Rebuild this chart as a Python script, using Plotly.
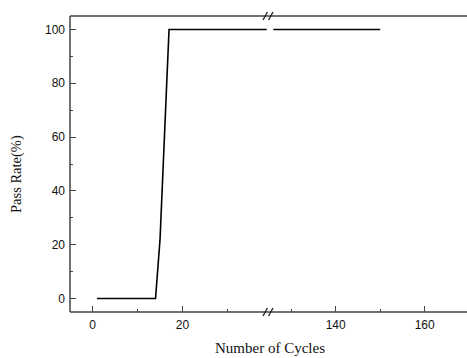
import plotly.graph_objects as go

# Data
cycles = [1, 14, 15, 17, 150]
pass_rate = [0, 0, 22, 100, 100]

x_title = "Number of Cycles"
y_title = "Pass Rate(%)"

W, H = 467, 358
ML, MR, MT, MB = 70, 0, 16, 46

left_dom = [0, 0.4955]
right_dom = [0.5121, 1.0]

axis_col = "#444444"
tick_font = dict(family="Liberation Sans, Arial", size=12, color="#111111")
xtitle_font = dict(family="Liberation Serif, Times New Roman", size=15, color="#111111")
ytitle_font = dict(family="Liberation Serif, Times New Roman", size=14.5, color="#111111")

fig = go.Figure()
fig.add_trace(go.Scatter(x=cycles, y=pass_rate, mode="lines",
                         line=dict(color="black", width=1.6), xaxis="x", yaxis="y",
                         showlegend=False))
fig.add_trace(go.Scatter(x=cycles, y=pass_rate, mode="lines",
                         line=dict(color="black", width=1.6), xaxis="x2", yaxis="y",
                         showlegend=False))

common_x = dict(showgrid=False, zeroline=False, showline=False,
                ticks="inside", ticklen=6, tickwidth=1.2, tickcolor=axis_col,
                tick0=0, dtick=20, tickfont=tick_font,
                minor=dict(ticks="inside", ticklen=3, tickwidth=1.2, tickcolor=axis_col, dtick=10, tick0=0, showgrid=False),
                ticklabelstandoff=4)

fig.update_layout(
    width=W, height=H,
    margin=dict(l=ML, r=MR, t=MT, b=MB),
    paper_bgcolor="white", plot_bgcolor="white",
    xaxis=dict(domain=left_dom, range=[-5, 38.7], anchor="y", **common_x),
    xaxis2=dict(domain=right_dom, range=[126, 169.5], anchor="y", **common_x),
    yaxis=dict(domain=[0, 1], range=[-5, 105], showgrid=False, zeroline=False, showline=False,
               ticks="inside", ticklen=6, tickwidth=1.2, tickcolor=axis_col,
               tick0=0, dtick=20, tickfont=tick_font,
               minor=dict(ticks="inside", ticklen=3, tickwidth=1.2, tickcolor=axis_col, dtick=10, tick0=0, showgrid=False),
               ticklabelstandoff=4),
)

shapes = []
lw = 1.5
# frame lines (bottom, top, left)
shapes.append(dict(type="line", xref="paper", yref="paper", x0=0, x1=1, y0=0, y1=0,
                   line=dict(color=axis_col, width=lw)))
shapes.append(dict(type="line", xref="paper", yref="paper", x0=0, x1=1, y0=1, y1=1,
                   line=dict(color=axis_col, width=lw)))
shapes.append(dict(type="line", xref="paper", yref="paper", x0=0, x1=0, y0=0, y1=1,
                   line=dict(color=axis_col, width=lw)))

# break marks "//" on bottom and top axes
pw = W - ML - MR
ph = H - MT - MB
def px(xpix):
    return (xpix - ML) / pw
def py_off(dpix):
    return dpix / ph
for ybase in (0, 1):
    for x0pix in (263.0, 268.5):
        shapes.append(dict(type="line", xref="paper", yref="paper",
                           x0=px(x0pix), x1=px(x0pix + 4.5),
                           y0=ybase - py_off(4), y1=ybase + py_off(4),
                           line=dict(color="#222222", width=1.4)))
fig.update_layout(shapes=shapes)

fig.add_annotation(text=x_title, xref="paper", yref="paper", x=px(269.5),
                   y=-(348 - (H - MB)) / ph, xanchor="center", yanchor="middle",
                   showarrow=False, font=xtitle_font)
fig.add_annotation(text=y_title, xref="paper", yref="paper", x=px(16),
                   y=(H - MB - 174) / ph, xanchor="center", yanchor="middle",
                   textangle=-90, showarrow=False, font=ytitle_font)

fig.write_html("out.html")
